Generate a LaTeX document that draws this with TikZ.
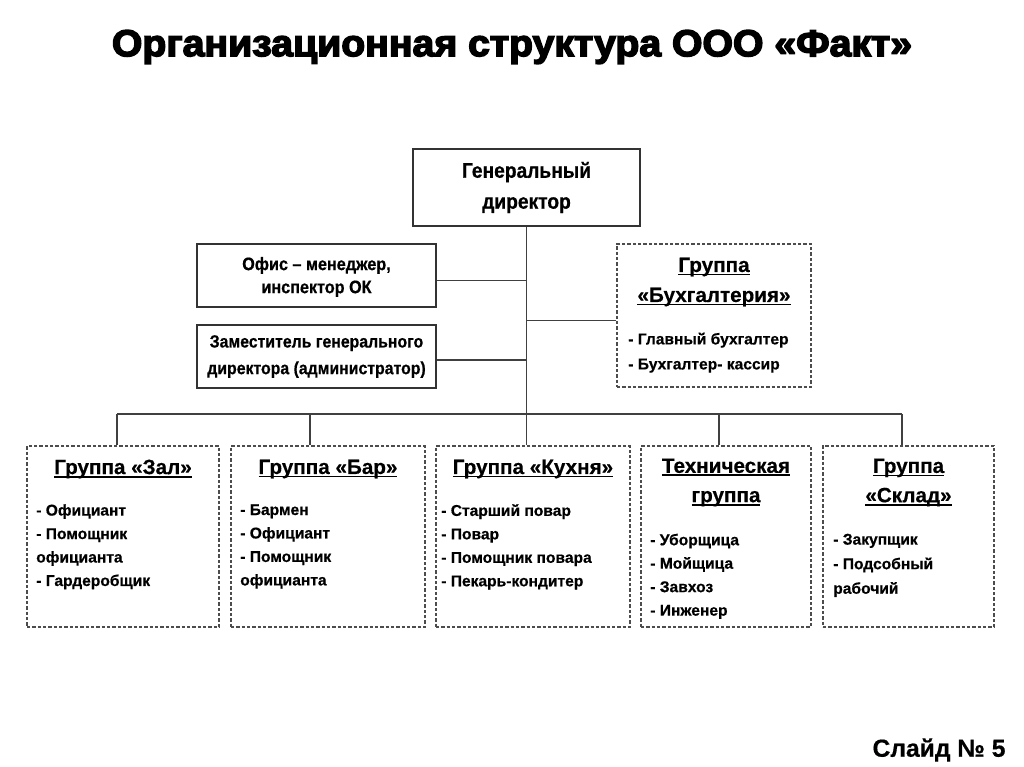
\documentclass[tikz,border=0pt]{standalone}
\usepackage{fontspec}
\setmainfont{Liberation Sans}[BoldFeatures={FakeBold=0.5}]
\newfontfamily\narrowfont{Liberation Sans}[BoldFeatures={FakeBold=0.6,FakeStretch=0.9}]
\newfontfamily\titlefont{Liberation Sans Bold}[FakeBold=4,FakeStretch=1.05]
\usetikzlibrary{fit}
\newcommand\ulx[1]{\setbox0\hbox{#1}\rlap{\vrule width\wd0 height -0.08em depth 0.17em}\box0}
\tikzset{
  solidbox/.style={draw=black!80, line width=1pt, inner sep=0pt},
  dashbox/.style={draw=black!70, line width=0.9pt, dash pattern=on 2.4pt off 1.6pt, inner sep=0pt},
  link/.style={draw=black!75, line width=1.1pt},
  boxtext/.style={font=\narrowfont\bfseries\fontsize{13.5}{17.3}\selectfont, align=center, inner sep=0pt},
  hdr/.style={font=\bfseries\fontsize{15.5}{22}\selectfont, align=center, inner sep=0pt},
  items/.style={font=\bfseries\fontsize{11.7}{17.6}\selectfont, align=left, inner sep=0pt, anchor=north west},
}
\begin{document}
\begin{tikzpicture}[x=0.75pt,y=-0.75pt]
\useasboundingbox (0,0) rectangle (1024,767);
\fill[white] (0,0) rectangle (1024,767);
% title
\node[font=\titlefont\fontsize{28}{30}\selectfont] (title) at (512,47) {Организационная структура ООО «Факт»};
\node[font=\bfseries\fontsize{18.5}{20}\selectfont] (slide) at (939,750) {Слайд № 5};
% top boxes
\node[solidbox, fit={(413,149) (640,226)}] (gd) {};
\node[boxtext, font=\narrowfont\bfseries\fontsize{16}{23.2}\selectfont] (gdt) at (gd.center) {Генеральный\\директор};
\node[solidbox, fit={(197,244) (436,307)}] (office) {};
\node[boxtext] (officet) at ([yshift=-1.1pt]office.center) {Офис – менеджер,\\инспектор ОК};
\node[solidbox, fit={(197,325) (436,388)}] (deputy) {};
\node[boxtext, font=\narrowfont\bfseries\fontsize{13.2}{20}\selectfont] (deputyt) at (deputy.center) {Заместитель генерального\\директора (администратор)};
\node[dashbox, fit={(617,244) (811,387)}] (acc) {};
\node[hdr, font=\bfseries\fontsize{15.5}{22.5}\selectfont] (acch) at (acc.north |- 0,282) {\ulx{Группа}\\\ulx{«Бухгалтерия»}};
\node[items, font=\bfseries\fontsize{11.7}{18.75}\selectfont] (acci) at (628,332.5) {- Главный бухгалтер\\- Бухгалтер- кассир};
% bottom boxes
\node[dashbox, fit={(27,446) (219,627)}] (zal) {};
\node[dashbox, fit={(231,446) (425,627)}] (bar) {};
\node[dashbox, fit={(436,446) (630,627)}] (kuh) {};
\node[dashbox, fit={(641,446) (811,627)}] (teh) {};
\node[dashbox, fit={(823,446) (994,627)}] (skl) {};
\node[hdr] (zalh) at (zal.north |- 0,469) {\ulx{Группа «Зал»}};
\node[hdr] (barh) at (bar.north |- 0,469) {\ulx{Группа «Бар»}};
\node[hdr] (kuhh) at (kuh.north |- 0,469) {\ulx{Группа «Кухня»}};
\node[hdr] (tehh) at (teh.north |- 0,482.5) {\ulx{Техническая}\\\ulx{группа}};
\node[hdr] (sklh) at (skl.north |- 0,482.5) {\ulx{Группа}\\\ulx{«Склад»}};
\node[items] (zali) at (36,504) {- Официант\\- Помощник\\официанта\\- Гардеробщик};
\node[items] (bari) at (240,504) {- Бармен\\- Официант\\- Помощник\\официанта};
\node[items] (kuhi) at (441,504) {- Старший повар\\- Повар\\- Помощник повара\\- Пекарь-кондитер};
\node[items] (tehi) at (650,533.5) {- Уборщица\\- Мойщица\\- Завхоз\\- Инженер};
\node[items, font=\bfseries\fontsize{11.7}{18.4}\selectfont] (skli) at (833,533.5) {- Закупщик\\- Подсобный\\рабочий};
% connectors
\coordinate (oc) at ([yshift=-3.75pt]office.east);
\coordinate (dc) at ([yshift=-2.6pt]deputy.east);
\coordinate (ac) at ([yshift=-3.75pt]acc.west);
\coordinate (bL) at (117,414);
\coordinate (b2) at (310,414);
\coordinate (b4) at (719,414);
\coordinate (bR) at (902,414);
\draw[link] (gd.south) -- (gd.south |- kuh.north);
\draw[link] (oc) -- (oc -| gd.south);
\draw[link] (dc) -- (dc -| gd.south);
\draw[link] (ac) -- (ac -| gd.south);
\draw[link] (bL) -- (bR);
\draw[link] (bL) -- (bL |- zal.north);
\draw[link] (b2) -- (b2 |- bar.north);
\draw[link] (b4) -- (b4 |- teh.north);
\draw[link] (bR) -- (bR |- skl.north);
\end{tikzpicture}
\end{document}
